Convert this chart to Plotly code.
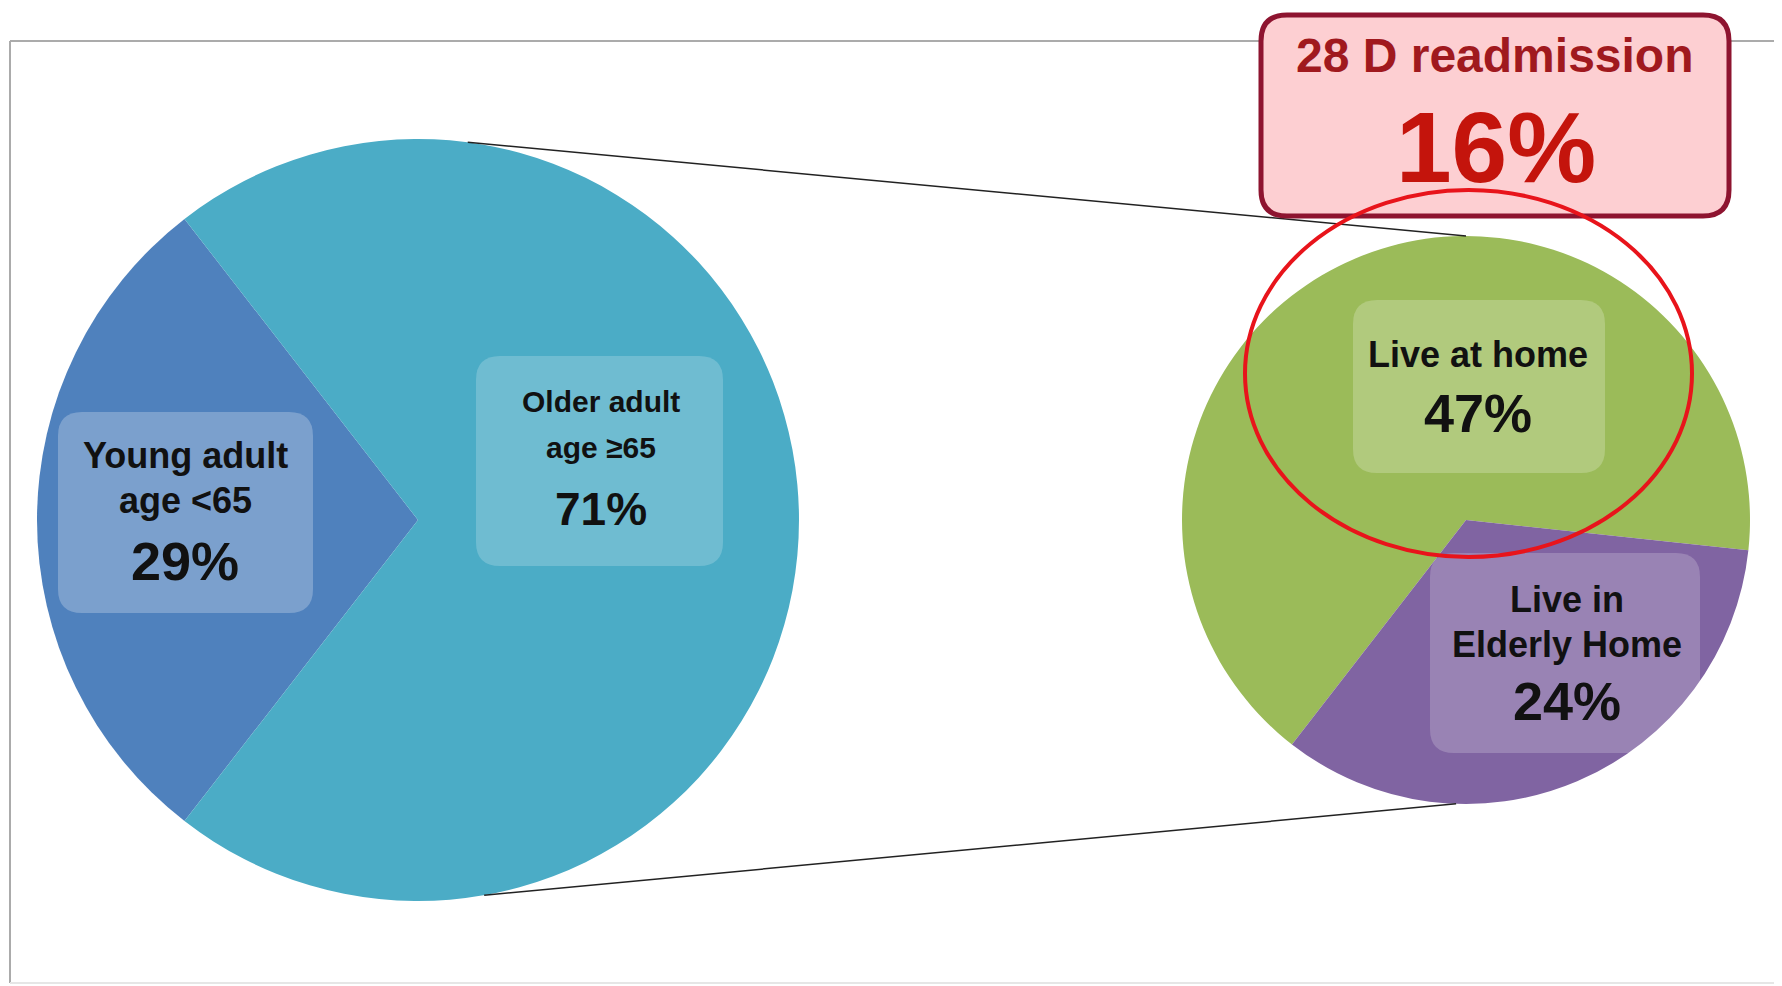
import math
import plotly.graph_objects as go

# ---------------- data ----------------
age_groups = ["Young adult", "Older adult"]
age_subtitles = ["age <65", "age \u226565"]
age_pct = [29, 71]

living_groups = ["Live at home", "Live in Elderly Home"]
living_label_lines = [["Live at home"], ["Live in", "Elderly Home"]]
living_pct = [47, 24]

readmission_title = "28 D readmission"
readmission_pct = 16

# ---------------- geometry (window pixels) ----------------
W, H = 1782, 986
OFF = 8  # page body margin
L_CX, L_CY, L_R = 418, 520, 381
R_CX, R_CY, R_R = 1466, 520, 284

FONT = "Liberation Sans, Arial, sans-serif"


def dom(cx, cy, r):
    return dict(x=[(cx - OFF - r) / W, (cx - OFF + r) / W],
                y=[1 - (cy - OFF + r) / H, 1 - (cy - OFF - r) / H])


fig = go.Figure()

fig.add_trace(go.Pie(
    labels=age_groups, values=age_pct, sort=False, direction="clockwise",
    rotation=-142.2, domain=dom(L_CX, L_CY, L_R),
    marker=dict(colors=["#4F81BD", "#4BACC6"], line=dict(width=0)),
    textinfo="none", hoverinfo="skip", showlegend=False,
))
fig.add_trace(go.Pie(
    labels=living_groups, values=living_pct, sort=False, direction="clockwise",
    rotation=217.8, domain=dom(R_CX, R_CY, R_R),
    marker=dict(colors=["#9BBB59", "#8064A2"], line=dict(width=0)),
    textinfo="none", hoverinfo="skip", showlegend=False,
))


def rrect(x0, y0, x1, y1, r):
    return (f"M {x0+r},{y0} L {x1-r},{y0} Q {x1},{y0} {x1},{y0+r} "
            f"L {x1},{y1-r} Q {x1},{y1} {x1-r},{y1} L {x0+r},{y1} "
            f"Q {x0},{y1} {x0},{y1-r} L {x0},{y0+r} Q {x0},{y0} {x0+r},{y0} Z")


def pt(cx, cy, r, deg):
    a = math.radians(deg)
    return cx + r * math.cos(a), cy - r * math.sin(a)


shapes = []
# outer frame: top and left clearly, bottom faint
shapes.append(dict(type="line", xref="x", yref="y", x0=10, y0=41, x1=1850, y1=41,
                   line=dict(color="#ABABAB", width=2), layer="below"))
shapes.append(dict(type="line", xref="x", yref="y", x0=10, y0=41, x1=10, y1=983,
                   line=dict(color="#ABABAB", width=2), layer="below"))
shapes.append(dict(type="line", xref="x", yref="y", x0=10, y0=983, x1=1850, y1=983,
                   line=dict(color="#E6E6E6", width=2), layer="below"))

# connector lines
tx0, ty0 = pt(L_CX, L_CY, L_R, 82.5)
tx1, ty1 = pt(R_CX, R_CY, R_R, 90)
bx0, by0 = pt(L_CX, L_CY, L_R, -80)
bx1, by1 = pt(R_CX, R_CY, R_R, -92)
for (a, b, c, d) in [(tx0, ty0, tx1, ty1), (bx0, by0, bx1, by1)]:
    shapes.append(dict(type="line", xref="x", yref="y", x0=a, y0=b, x1=c, y1=d,
                       line=dict(color="#222222", width=1.5)))

# label boxes
boxes = [
    ((58, 412, 313, 613), "rgba(255,255,255,0.25)"),
    ((476, 356, 723, 566), "rgba(255,255,255,0.2)"),
    ((1353, 300, 1605, 473), "rgba(255,255,255,0.22)"),
    ((1430, 553, 1700, 753), "rgba(255,255,255,0.2)"),
]
for (x0, y0, x1, y1), fc in boxes:
    shapes.append(dict(type="path", xref="x", yref="y", path=rrect(x0, y0, x1, y1, 24),
                       fillcolor=fc, line=dict(width=0)))

# readmission box
shapes.append(dict(type="path", xref="x", yref="y", path=rrect(1261, 15, 1729, 216, 26),
                   fillcolor="#FDCFD2", line=dict(color="#8E1430", width=5)))
# red ellipse
shapes.append(dict(type="circle", xref="x", yref="y", x0=1245, y0=190, x1=1692, y1=557,
                   line=dict(color="#E8141B", width=4), fillcolor="rgba(0,0,0,0)"))

annotations = []


def txt(x, baseline, s, size, color="#111111"):
    annotations.append(dict(xref="x", yref="y", x=x, y=baseline - 0.35 * size, text=s,
                            showarrow=False, xanchor="center", yanchor="middle",
                            font=dict(family=FONT, size=size, color=color, weight="bold")))


txt(185, 468, age_groups[0], 36)
txt(185, 513, age_subtitles[0], 36)
txt(185, 580, f"{age_pct[0]}%", 54)

txt(601, 412, age_groups[1], 30)
txt(601, 458, age_subtitles[1], 30)
txt(601, 525, f"{age_pct[1]}%", 46)

txt(1478, 367, living_label_lines[0][0], 36)
txt(1478, 432, f"{living_pct[0]}%", 54)

txt(1567, 612, living_label_lines[1][0], 36)
txt(1567, 657, living_label_lines[1][1], 36)
txt(1567, 720, f"{living_pct[1]}%", 54)

txt(1495, 72, readmission_title, 48, "#A0191E")
txt(1496, 182, f"{readmission_pct}%", 100, "#C4140C")

fig.update_layout(
    width=W, height=H, margin=dict(l=0, r=0, t=0, b=0),
    paper_bgcolor="white", plot_bgcolor="rgba(0,0,0,0)",
    xaxis=dict(range=[OFF, W + OFF], visible=False, fixedrange=True),
    yaxis=dict(range=[H + OFF, OFF], visible=False, fixedrange=True),
    shapes=shapes, annotations=annotations, showlegend=False,
)

fig.write_html("out.html")
